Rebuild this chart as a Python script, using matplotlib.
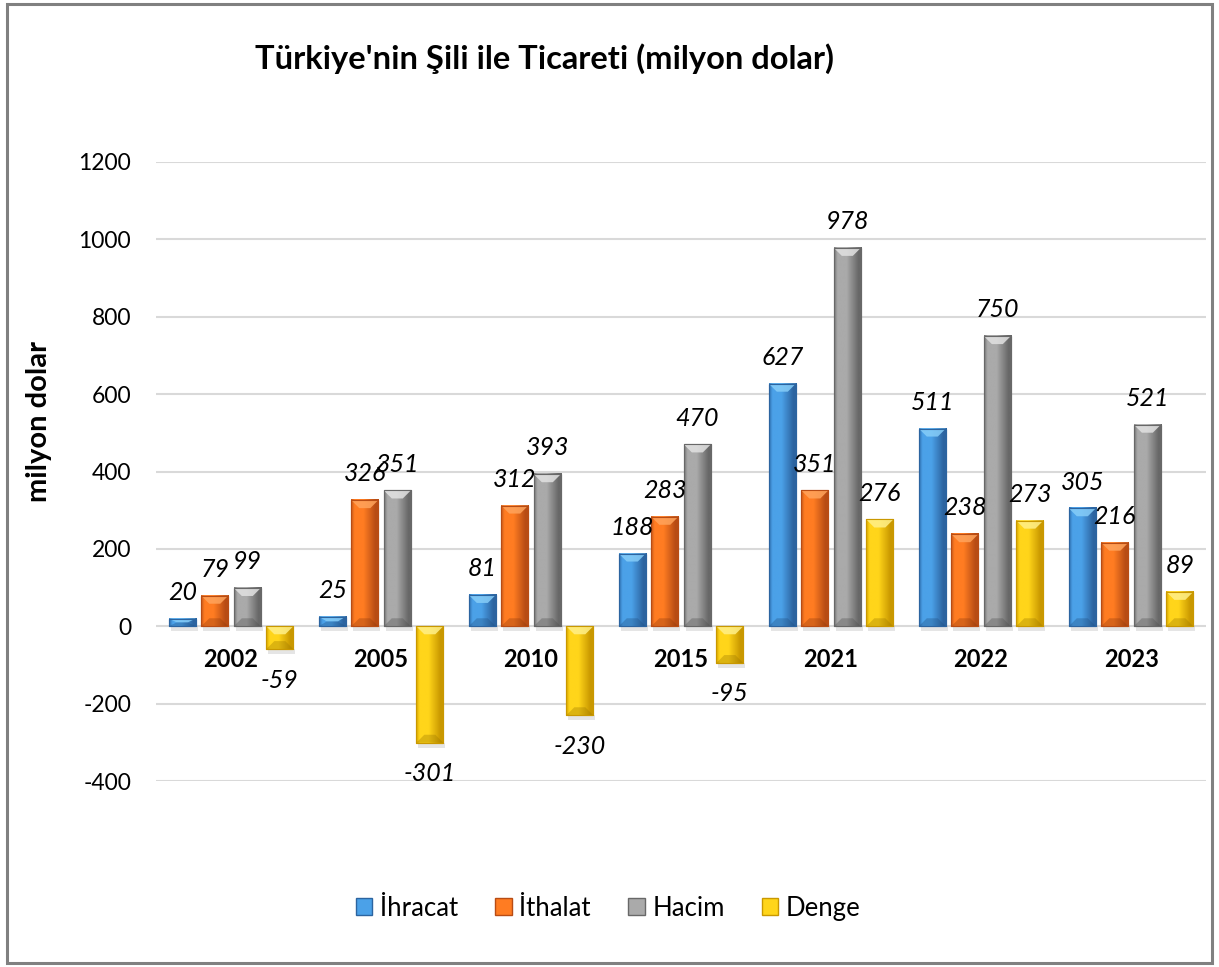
import matplotlib
matplotlib.use("Agg")
import matplotlib.pyplot as plt
import numpy as np
from matplotlib.colors import LinearSegmentedColormap
from matplotlib.patches import Polygon, Rectangle

plt.rcParams["font.family"] = ["Lato", "DejaVu Sans"]
plt.rcParams["axes.unicode_minus"] = False

# data (milyon dolar)
years = ["2002", "2005", "2010", "2015", "2021", "2022", "2023"]
ihracat = [20, 25, 81, 188, 627, 511, 305]
ithalat = [79, 326, 312, 283, 351, 238, 216]
hacim = [99, 351, 393, 470, 978, 750, 521]
denge = [-59, -301, -230, -95, 276, 273, 89]
series_names = ["İhracat", "İthalat", "Hacim", "Denge"]
series_values = [ihracat, ithalat, hacim, denge]

# left edge, mid (light), right edge, top bevel, bottom bevel
STYLES = [
    ("#2f6fb0", "#4ba1e8", "#2c64a0", "#86cdf8", "#204f80"),
    ("#c4561a", "#ff7c22", "#b84c14", "#ffa45c", "#8f3a0c"),
    ("#747474", "#aaaaaa", "#686868", "#e2e2e2", "#4e4e4e"),
    ("#d6a400", "#ffd51a", "#c99800", "#fff08a", "#9c7700"),
]

YMIN, YMAX = -400, 1200
fig = plt.figure(figsize=(12.19, 9.67), dpi=100)
ax_rect = [0.128, 0.1923, 0.8614, 0.6402]
ax = fig.add_axes(ax_rect)

x = np.arange(len(years))
pitch, width = 0.2167, 0.18
offsets = (np.arange(len(series_names)) - 1.5) * pitch

# pixel -> data conversion for bevel sizes
ax_w_px = ax_rect[2] * 1219
ax_h_px = ax_rect[3] * 967
dx_px = len(years) / ax_w_px
dy_px = (YMAX - YMIN) / ax_h_px
bevel = 8

grad = np.linspace(0, 1, 64).reshape(1, -1)

for i, (name, vals) in enumerate(zip(series_names, series_values)):
    edge, mid, redge, top_c, bot_c = STYLES[i]
    cmap = LinearSegmentedColormap.from_list(
        name, [(0, edge), (0.12, mid), (0.45, mid), (0.88, redge), (1, redge)])
    bars = ax.bar(x + offsets[i], vals, width, color=mid, edgecolor=redge,
                  linewidth=0.8, zorder=3)
    for b, v in zip(bars, vals):
        x0, x1 = b.get_x(), b.get_x() + b.get_width()
        yt, yb = max(0, v), min(0, v)
        ax.imshow(grad, extent=[x0, x1, yb, yt], aspect="auto", cmap=cmap,
                  clip_path=b, zorder=3.1, interpolation="bilinear")
        # soft shadow under the bar
        ax.add_patch(Rectangle((x0 + 2 * dx_px, yb - 5 * dy_px), x1 - x0,
                               5 * dy_px, color="#9a9a9a", alpha=0.25,
                               lw=0, zorder=2.5))
        dx = bevel * dx_px
        dy = min(bevel * dy_px, abs(v) / 2)
        ax.add_patch(Polygon([(x0, yt), (x1, yt), (x1 - dx, yt - dy), (x0 + dx, yt - dy)],
                             closed=True, color=top_c, alpha=0.85, lw=0, zorder=3.2))
        ax.add_patch(Polygon([(x0, yb), (x1, yb), (x1 - dx, yb + dy), (x0 + dx, yb + dy)],
                             closed=True, color=bot_c, alpha=0.35, lw=0, zorder=3.2))
        ax.add_patch(Rectangle((x0, yb), x1 - x0, yt - yb, fill=False,
                               edgecolor=redge, lw=0.8, zorder=3.3))
        if v >= 0:
            ax.annotate(str(v), (x0 + (x1 - x0) / 2, v), xytext=(0, 13.5),
                        textcoords="offset points", ha="center", va="baseline",
                        fontsize=18, fontstyle="italic", zorder=5)
        else:
            ax.annotate(str(v), (x0 + (x1 - x0) / 2, v), xytext=(0, -14),
                        textcoords="offset points", ha="center", va="top",
                        fontsize=18, fontstyle="italic", zorder=5)

for xi, yr in zip(x, years):
    ax.annotate(yr, (xi, 0), xytext=(0, -16), textcoords="offset points",
                ha="center", va="top", fontsize=17, fontweight="bold", zorder=5)

ax.set_xlim(-0.5, len(years) - 0.5)
ax.set_ylim(YMIN, YMAX)
ax.set_yticks(range(YMIN, YMAX + 1, 200))
ax.set_xticks([])
ax.yaxis.grid(True, color="#d9d9d9", linewidth=1.5)
ax.set_axisbelow(True)
ax.tick_params(axis="y", length=0, pad=18, labelsize=16.5)
for s in ax.spines.values():
    s.set_visible(False)

fig.text(0.447, 0.939, "Türkiye'nin Şili ile Ticareti (milyon dolar)",
         ha="center", va="center", fontsize=23.5, fontweight="bold")
fig.text(0.032, 0.5646, "milyon dolar", rotation=90, ha="center", va="center",
         fontsize=21, fontweight="bold")

handles = [Rectangle((0, 0), 1, 1, facecolor=s[1], edgecolor=s[2], lw=1)
           for s in STYLES]
ax.legend(handles, series_names, loc="center", bbox_to_anchor=(0.499, 0.061),
          bbox_transform=fig.transFigure, ncol=4, frameon=False, fontsize=18.5,
          handlelength=0.64, handleheight=0.64, handletextpad=0.3,
          columnspacing=1.45)

fig.add_artist(Rectangle((7 / 1219, 4 / 967), 1205 / 1219, 959 / 967,
                         transform=fig.transFigure, fill=False,
                         edgecolor="#808080", linewidth=2.2))

fig.savefig("out.png", dpi=100)
